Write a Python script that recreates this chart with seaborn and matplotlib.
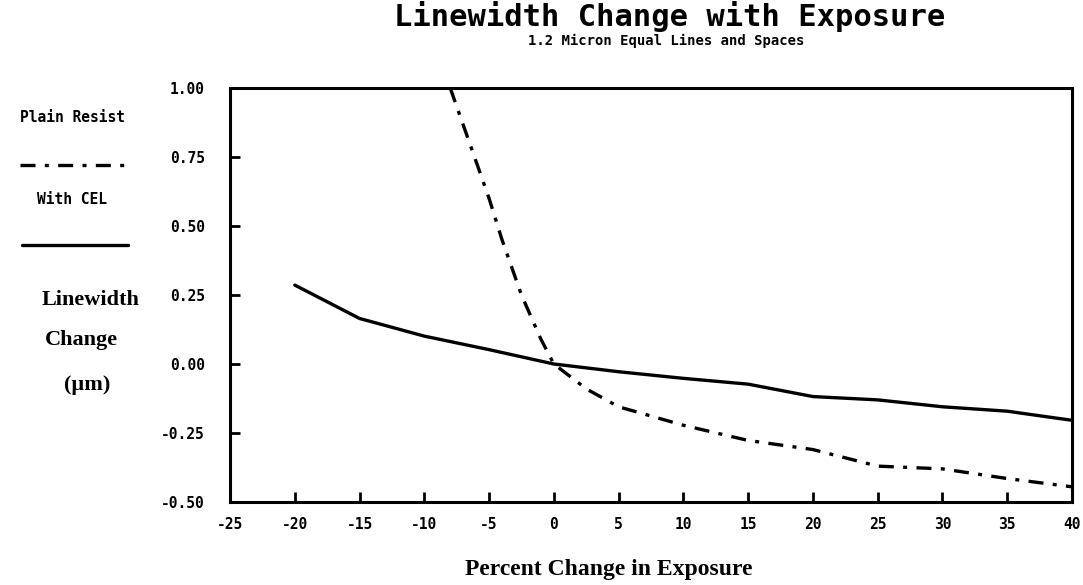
import numpy as np
import pandas as pd
import matplotlib
matplotlib.use("Agg")
import matplotlib.pyplot as plt
import seaborn as sns

# ---- data ----
cel_x = [-20, -15, -10, -5, 0, 5, 10, 15, 20, 25, 30, 35, 40]
cel_y = [0.286, 0.165, 0.101, 0.052, 0.0, -0.028, -0.052, -0.073, -0.118, -0.13, -0.155, -0.171, -0.204]

plain_x = [-8, -6.5, -5, -4, -2.5, -1, 0, 2.5, 5, 10, 15, 20, 25, 30, 35, 40]
plain_y = [1.0, 0.80, 0.60, 0.45, 0.25, 0.09, 0.0, -0.09, -0.155, -0.222, -0.277, -0.31, -0.37, -0.38, -0.415, -0.445]

x_ticks = [-25, -20, -15, -10, -5, 0, 5, 10, 15, 20, 25, 30, 35, 40]
y_ticks = [-0.50, -0.25, 0.00, 0.25, 0.50, 0.75, 1.00]
y_tick_labels = ["-0.50", "-0.25", "0.00", "0.25", "0.50", "0.75", "1.00"]

title = "Linewidth Change with Exposure"
subtitle = "1.2 Micron Equal Lines and Spaces"
xlabel = "Percent Change in Exposure"
ylabel_lines = ["Linewidth", "Change", "(\u00b5m)"]
legend_names = ["Plain Resist", "With CEL"]

sns.set_theme(style="white")
plt.rcParams["font.family"] = ["DejaVu Sans Mono", "DejaVu Sans"]
plt.rcParams["text.color"] = "black"
plt.rcParams["xtick.color"] = "black"
plt.rcParams["ytick.color"] = "black"

fig = plt.figure(figsize=(10.83, 5.85), dpi=100)
W, H = 1083, 585
ax = fig.add_axes([230 / W, 1 - 502 / H, (1072 - 230) / W, (502 - 88) / H])

df_cel = pd.DataFrame({"x": cel_x, "y": cel_y})
df_plain = pd.DataFrame({"x": plain_x, "y": plain_y})

DASH = (4.5, 2.8, 1.2, 2.8)
sns.lineplot(data=df_cel, x="x", y="y", ax=ax, color="black", linewidth=2.4, sort=False)
sns.lineplot(data=df_plain, x="x", y="y", ax=ax, color="black", linewidth=2.4, sort=False,
             dashes=False)
ax.lines[-1].set_dashes(DASH)

ax.set_xlim(-25, 40)
ax.set_ylim(-0.5, 1.0)
ax.set_xticks(x_ticks)
ax.set_xticklabels([str(v) for v in x_ticks])
ax.set_yticks(y_ticks)
ax.set_yticklabels(y_tick_labels)
ax.set_xlabel("")
ax.set_ylabel("")

for s in ax.spines.values():
    s.set_visible(True)
    s.set_color("black")
    s.set_linewidth(2.2)

ax.tick_params(axis="both", direction="in", length=7, width=2, color="black",
               bottom=True, left=True, top=False, right=False)
ax.tick_params(axis="x", pad=11, labelsize=10.5)
ax.tick_params(axis="y", pad=18, labelsize=10.5)
for lab in ax.get_xticklabels() + ax.get_yticklabels():
    lab.set_fontweight("bold")
    lab.set_family(["DejaVu Sans Mono"])
    lab.set_color("black")

# titles
fig.text(670 / W, 1 - 26 / H, title, ha="center", va="baseline",
         fontsize=22, fontweight="bold", family=["DejaVu Sans Mono"])
fig.text(666 / W, 1 - 45 / H, subtitle, ha="center", va="baseline",
         fontsize=10, fontweight="bold", family=["DejaVu Sans Mono"])

# left-side legend
fig.text(72 / W, 1 - 117 / H, legend_names[0], ha="center", va="center",
         fontsize=10.5, fontweight="bold", family=["DejaVu Sans Mono"])
fig.text(72 / W, 1 - 200 / H, legend_names[1], ha="center", va="center",
         fontsize=10.5, fontweight="bold", family=["DejaVu Sans Mono"])
leg1 = plt.Line2D([20 / W, 128 / W], [1 - 165 / H, 1 - 165 / H], transform=fig.transFigure,
                  color="black", linewidth=2.4)
leg1.set_dashes(DASH)
leg2 = plt.Line2D([22 / W, 128 / W], [1 - 245 / H, 1 - 245 / H], transform=fig.transFigure,
                  color="black", linewidth=2.4)
fig.add_artist(leg1)
fig.add_artist(leg2)

# y label (three lines, serif)
for txt, xp, yp in zip(ylabel_lines, [91, 81, 87], [300, 340, 385]):
    fig.text(xp / W, 1 - yp / H, txt, ha="center", va="center", fontsize=16,
             fontweight="bold", family=["Liberation Serif"])

fig.text(609 / W, 1 - 570 / H, xlabel, ha="center", va="center", fontsize=17,
         fontweight="bold", family=["Liberation Serif"])

fig.savefig("out.png", dpi=100)
